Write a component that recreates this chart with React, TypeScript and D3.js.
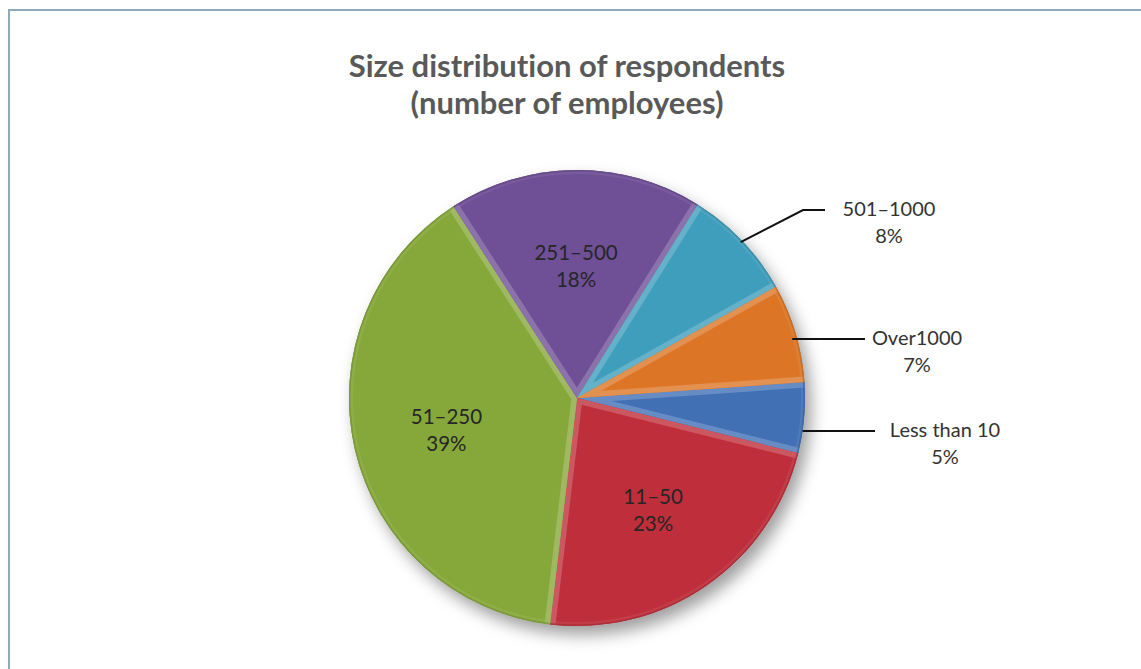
import React from "react";
import * as d3 from "d3";

const categories = ["Less than 10", "11–50", "51–250", "251–500", "501–1000", "Over1000"];
const values = [5, 23, 39, 18, 8, 7];
const colors = ["#4170b4", "#be2e3b", "#86a83a", "#6f4f96", "#3f9ebc", "#dc7626"];
const titleLines = ["Size distribution of respondents", "(number of employees)"];
const insideLabels = ["11–50", "51–250", "251–500"];

// layout for the outside labels (text centre x, leader y, leader end x, optional elbow x)
const outsideLayout: Record<string, { tx: number; ly: number; lx2: number; elbowX?: number; inset: number }> = {
  "501–1000": { tx: 889, ly: 210, lx2: 825, elbowX: 803, inset: 0 },
  "Over1000": { tx: 917, ly: 339, lx2: 865, inset: 5 },
  "Less than 10": { tx: 945, ly: 431, lx2: 875, inset: 0 },
};

const W = 1141;
const H = 669;
const cx = 577;
const cy = 398;
const R = 228;
const FONT = "Lato, 'Open Sans', sans-serif";

export default function App() {
  const pie = d3
    .pie<number>()
    .sort(null)
    .value((d) => d)
    .startAngle((86 * Math.PI) / 180)
    .endAngle((86 * Math.PI) / 180 + 2 * Math.PI);
  const arcs = pie(values);
  const arc = d3.arc<d3.PieArcDatum<number>>().innerRadius(0).outerRadius(R);
  const rimArc = d3.arc<d3.PieArcDatum<number>>().innerRadius(R - 1.5).outerRadius(R);
  const labelArc = d3.arc<d3.PieArcDatum<number>>().innerRadius(134).outerRadius(134);

  const edges = (a: d3.PieArcDatum<number>) => {
    const r = R + 10;
    const p1: [number, number] = [Math.sin(a.startAngle) * r, -Math.cos(a.startAngle) * r];
    const p2: [number, number] = [Math.sin(a.endAngle) * r, -Math.cos(a.endAngle) * r];
    return d3.line()([p1, [0, 0], p2]) || "";
  };

  return (
    <svg
      width={W}
      height={H}
      style={{ position: "absolute", left: 0, top: 0, background: "#fff", fontVariantLigatures: "none" }}
      fontFamily={FONT}
    >
      <defs>
        <filter id="shadow" x="-20%" y="-20%" width="150%" height="150%">
          <feDropShadow dx="6" dy="9" stdDeviation="8" floodColor="#000" floodOpacity="0.38" />
        </filter>
        {arcs.map((a, i) => (
          <clipPath id={`clip${i}`} key={i}>
            <path d={arc(a) || ""} />
          </clipPath>
        ))}
      </defs>
      {/* frame */}
      <path d={`M9,${H} V10 H${W}`} fill="none" stroke="#8eaab8" strokeWidth={2} />

      {/* title */}
      <g fill="#595959" fontWeight="bold" fontSize={31} textAnchor="middle">
        {titleLines.map((t, i) => (
          <text key={i} x={567} y={77 + i * 37}>
            {t}
          </text>
        ))}
      </g>

      <g transform={`translate(${cx},${cy})`}>
        <g filter="url(#shadow)">
          <circle r={R} fill="#888" />
        </g>
        {arcs.map((a, i) => {
          const light = d3.interpolateRgb(colors[i], "#ffffff")(0.2);
          const dark = (d3.color(colors[i]) as d3.RGBColor).darker(0.4).toString();
          return (
            <g key={i}>
              <path d={arc(a) || ""} fill={colors[i]} />
              <g clipPath={`url(#clip${i})`}>
                <path d={edges(a)} fill="none" stroke={light} strokeWidth={11} strokeLinejoin="miter" />
                <path d={arc(a) || ""} fill="none" stroke={light} strokeOpacity={0.35} strokeWidth={8} />
              </g>
              <path d={rimArc(a) || ""} fill={dark} fillOpacity={0.7} />
            </g>
          );
        })}
        {arcs.map((a, i) => {
          const name = categories[i];
          if (!insideLabels.includes(name)) return null;
          const [x, y] = labelArc.centroid(a);
          return (
            <text key={i} x={x} y={y} textAnchor="middle" fontSize={20.5} fill="#262626">
              <tspan x={x} dy={-4}>{name}</tspan>
              <tspan x={x} dy={27}>{`${values[i]}%`}</tspan>
            </text>
          );
        })}
      </g>

      {arcs.map((a, i) => {
        const name = categories[i];
        const L = outsideLayout[name];
        if (!L) return null;
        let pts: [number, number][];
        if (L.elbowX !== undefined) {
          const mid = (a.startAngle + a.endAngle) / 2;
          const sx = cx + Math.sin(mid) * (R - 2);
          const sy = cy - Math.cos(mid) * (R - 2);
          pts = [
            [sx, sy],
            [L.elbowX, L.ly],
            [L.lx2, L.ly],
          ];
        } else {
          const dy = L.ly - cy;
          const sx = cx + Math.sqrt(R * R - dy * dy) - L.inset;
          pts = [
            [sx, L.ly],
            [L.lx2, L.ly],
          ];
        }
        const line = d3.line()(pts) || "";
        return (
          <g key={i}>
            <path d={line} fill="none" stroke="#111" strokeWidth={2} />
            <text textAnchor="middle" fontSize={20} fill="#333">
              <tspan x={L.tx} y={L.ly + 6}>{name}</tspan>
              <tspan x={L.tx} y={L.ly + 33}>{`${values[i]}%`}</tspan>
            </text>
          </g>
        );
      })}
    </svg>
  );
}
